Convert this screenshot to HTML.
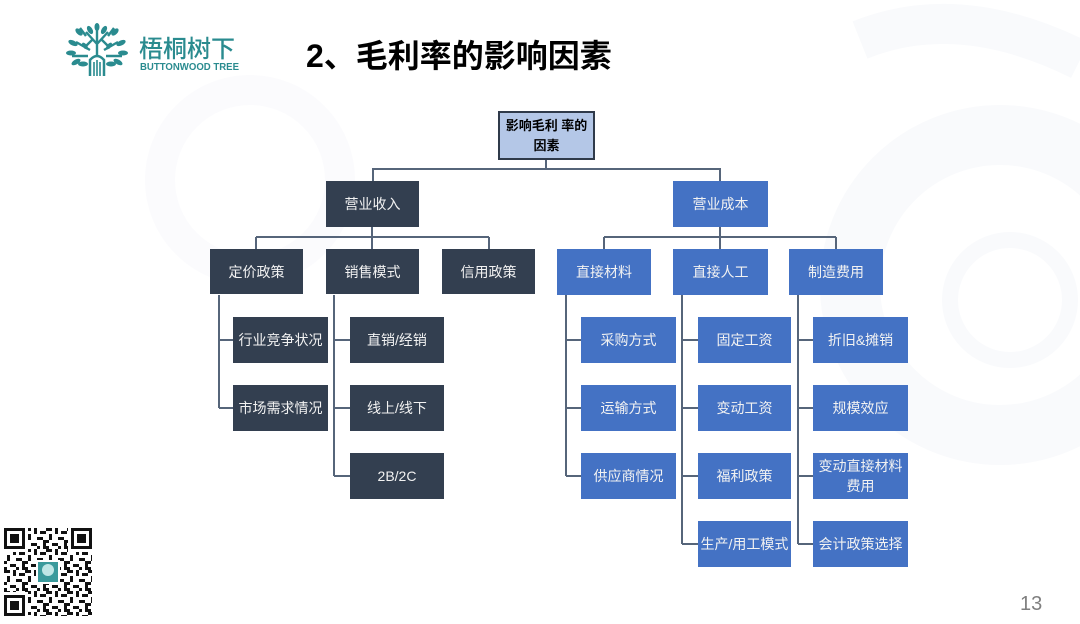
<!DOCTYPE html>
<html><head><meta charset="utf-8">
<style>
*{margin:0;padding:0;box-sizing:border-box}
body{width:1080px;height:624px;overflow:hidden;background:#fff;position:relative;font-family:"Liberation Sans","Noto Sans CJK SC",sans-serif}
.b{position:absolute;display:flex;align-items:center;justify-content:center;text-align:center;color:#f2f2f2;font-size:14px;line-height:20px}
.d{background:#333f50}
.u{background:#4472c4}
#title{position:absolute;left:306px;top:36px;font-size:32px;font-weight:bold;color:#000;white-space:nowrap;line-height:40px}
#num{position:absolute;left:1020px;top:593px;font-size:20px;color:#7f7f7f}
</style></head><body>
<svg style="position:absolute;left:0;top:0" width="1080" height="624">
<g fill="none" stroke="#f9fafc">
<circle cx="1000" cy="285" r="150" stroke-width="60"/>
<circle cx="1010" cy="300" r="60" stroke-width="16"/>
<path d="M860 40 Q960 0 1080 60" stroke-width="40"/>
<circle cx="250" cy="180" r="90" stroke-width="30" stroke="#fbfbfd"/>
</g>
</svg>

<!-- logo -->
<svg style="position:absolute;left:66px;top:22px" width="64" height="56" viewBox="0 0 64 56">
<g fill="#2a8b8f" stroke="#2a8b8f">
<path d="M24 54 V38 Q31 30 38 38 V54" fill="none" stroke-width="2.5"/>
<path d="M28 40 V54 M31 38 V54 M34 40 V54" fill="none" stroke-width="1.6"/>
<path d="M31 34 V6 M31 22 L20 10 M31 22 L42 10 M24 28 L10 20 M38 28 L52 20 M22 34 L6 34 M40 34 L56 34 M20 14 L14 6 M42 14 L48 6 M26 18 L18 26 M36 18 L44 26" fill="none" stroke-width="2.4"/>
<ellipse cx="31" cy="5" rx="2.5" ry="4" stroke="none"/>
<ellipse cx="24" cy="8" rx="2.5" ry="4.5" transform="rotate(-30 24 8)" stroke="none"/>
<ellipse cx="38" cy="8" rx="2.5" ry="4.5" transform="rotate(30 38 8)" stroke="none"/>
<ellipse cx="13" cy="10" rx="2.5" ry="4.5" transform="rotate(-45 13 10)" stroke="none"/>
<ellipse cx="49" cy="10" rx="2.5" ry="4.5" transform="rotate(45 49 10)" stroke="none"/>
<ellipse cx="7" cy="21" rx="2.5" ry="5" transform="rotate(-65 7 21)" stroke="none"/>
<ellipse cx="55" cy="21" rx="2.5" ry="5" transform="rotate(65 55 21)" stroke="none"/>
<ellipse cx="5" cy="31" rx="2.5" ry="5" transform="rotate(-90 5 31)" stroke="none"/>
<ellipse cx="57" cy="31" rx="2.5" ry="5" transform="rotate(90 57 31)" stroke="none"/>
<ellipse cx="10" cy="40" rx="2.5" ry="5" transform="rotate(-120 10 40)" stroke="none"/>
<ellipse cx="52" cy="40" rx="2.5" ry="5" transform="rotate(120 52 40)" stroke="none"/>
<ellipse cx="19" cy="24" rx="2" ry="4" transform="rotate(-40 19 24)" stroke="none"/>
<ellipse cx="43" cy="24" rx="2" ry="4" transform="rotate(40 43 24)" stroke="none"/>
<ellipse cx="17" cy="42" rx="5" ry="2.5" stroke="none"/>
<ellipse cx="45" cy="42" rx="5" ry="2.5" stroke="none"/>
</g>
</svg>
<div style="position:absolute;left:139px;top:33px;font-size:24px;color:#2a8b8f;line-height:28px;font-family:'Noto Sans CJK SC',sans-serif;font-weight:500">梧桐树下</div>
<svg style="position:absolute;left:139px;top:60px" width="104" height="12">
<text x="1" y="10" font-family="Liberation Sans, sans-serif" font-size="10" font-weight="bold" fill="#2a8b8f" textLength="99" lengthAdjust="spacingAndGlyphs">BUTTONWOOD TREE</text>
</svg>

<div id="title">2、毛利率的影响因素</div>

<!-- connectors -->
<svg style="position:absolute;left:0;top:0" width="1080" height="624">
<g fill="none" stroke="#56657a" stroke-width="2">
<path d="M546 160 V169 M372 169 H721 M373 169 V181 M720 169 V181"/>
<path d="M372 227 V249 M256 237 H489 M256 237 V249 M489 237 V249"/>
<path d="M720 227 V249 M604 237 H836 M604 237 V249 M836 237 V249"/>
<path d="M219 295 V408 M219 340 H233 M219 408 H233"/>
<path d="M334 295 V476 M334 340 H350 M334 408 H350 M334 476 H350"/>
<path d="M566 295 V476 M566 340 H581 M566 408 H581 M566 476 H581"/>
<path d="M682 295 V544 M682 340 H698 M682 408 H698 M682 476 H698 M682 544 H698"/>
<path d="M798 295 V544 M798 340 H813 M798 408 H813 M798 476 H813 M798 544 H813"/>
</g>
</svg>

<!-- root -->
<div class="b" style="left:498px;top:111px;width:97px;height:49px;background:#b4c7e7;border:2px solid #2f3a4a;color:#000;font-weight:bold;font-size:13px;line-height:20px">影响毛利 率的<br>因素</div>

<!-- level 1 -->
<div class="b d" style="left:326px;top:181px;width:93px;height:46px">营业收入</div>
<div class="b u" style="left:673px;top:181px;width:95px;height:46px">营业成本</div>

<!-- level 2 -->
<div class="b d" style="left:210px;top:249px;width:93px;height:45px">定价政策</div>
<div class="b d" style="left:326px;top:249px;width:93px;height:45px">销售模式</div>
<div class="b d" style="left:442px;top:249px;width:93px;height:45px">信用政策</div>
<div class="b u" style="left:557px;top:249px;width:94px;height:46px">直接材料</div>
<div class="b u" style="left:673px;top:249px;width:95px;height:46px">直接人工</div>
<div class="b u" style="left:789px;top:249px;width:94px;height:46px">制造费用</div>

<!-- level 3 left -->
<div class="b d" style="left:233px;top:317px;width:95px;height:46px">行业竞争状况</div>
<div class="b d" style="left:233px;top:385px;width:95px;height:46px">市场需求情况</div>
<div class="b d" style="left:350px;top:317px;width:94px;height:46px">直销/经销</div>
<div class="b d" style="left:350px;top:385px;width:94px;height:46px">线上/线下</div>
<div class="b d" style="left:350px;top:453px;width:94px;height:46px">2B/2C</div>

<!-- level 3 right -->
<div class="b u" style="left:581px;top:317px;width:95px;height:46px">采购方式</div>
<div class="b u" style="left:581px;top:385px;width:95px;height:46px">运输方式</div>
<div class="b u" style="left:581px;top:453px;width:95px;height:46px">供应商情况</div>

<div class="b u" style="left:698px;top:317px;width:93px;height:46px">固定工资</div>
<div class="b u" style="left:698px;top:385px;width:93px;height:46px">变动工资</div>
<div class="b u" style="left:698px;top:453px;width:93px;height:46px">福利政策</div>
<div class="b u" style="left:698px;top:521px;width:93px;height:46px;white-space:nowrap">生产/用工模式</div>

<div class="b u" style="left:813px;top:317px;width:95px;height:46px">折旧&amp;摊销</div>
<div class="b u" style="left:813px;top:385px;width:95px;height:46px">规模效应</div>
<div class="b u" style="left:813px;top:453px;width:95px;height:46px">变动直接材料<br>费用</div>
<div class="b u" style="left:813px;top:521px;width:95px;height:46px">会计政策选择</div>

<!-- QR code -->
<svg style="position:absolute;left:4px;top:528px" width="88" height="88" viewBox="0 0 88 88">
<defs>
<pattern id="qp" x="0" y="0" width="21" height="21" patternUnits="userSpaceOnUse">
<rect x="0" y="0" width="6" height="3" fill="#111"/>
<rect x="9" y="0" width="3" height="6" fill="#111"/>
<rect x="15" y="3" width="6" height="3" fill="#111"/>
<rect x="3" y="6" width="3" height="6" fill="#111"/>
<rect x="12" y="9" width="6" height="3" fill="#111"/>
<rect x="0" y="12" width="3" height="3" fill="#111"/>
<rect x="6" y="15" width="6" height="3" fill="#111"/>
<rect x="18" y="12" width="3" height="9" fill="#111"/>
<rect x="0" y="18" width="3" height="3" fill="#111"/>
<rect x="12" y="18" width="3" height="3" fill="#111"/>
</pattern>
</defs>
<rect width="88" height="88" fill="#fff"/>
<rect width="88" height="88" fill="url(#qp)"/>
<g>
<rect x="0" y="0" width="24" height="24" fill="#fff"/>
<rect x="64" y="0" width="24" height="24" fill="#fff"/>
<rect x="0" y="64" width="24" height="24" fill="#fff"/>
<rect x="0" y="0" width="21" height="21" fill="#111"/><rect x="3" y="3" width="15" height="15" fill="#fff"/><rect x="6" y="6" width="9" height="9" fill="#111"/>
<rect x="67" y="0" width="21" height="21" fill="#111"/><rect x="70" y="3" width="15" height="15" fill="#fff"/><rect x="73" y="6" width="9" height="9" fill="#111"/>
<rect x="0" y="67" width="21" height="21" fill="#111"/><rect x="3" y="70" width="15" height="15" fill="#fff"/><rect x="6" y="73" width="9" height="9" fill="#111"/>
<rect x="32" y="32" width="24" height="24" fill="#fff"/>
<rect x="34" y="34" width="20" height="20" fill="#3a9a9c"/>
<circle cx="44" cy="42" r="6" fill="#bfe6e6"/>
</g>
</svg>

<div id="num">13</div>
</body></html>
